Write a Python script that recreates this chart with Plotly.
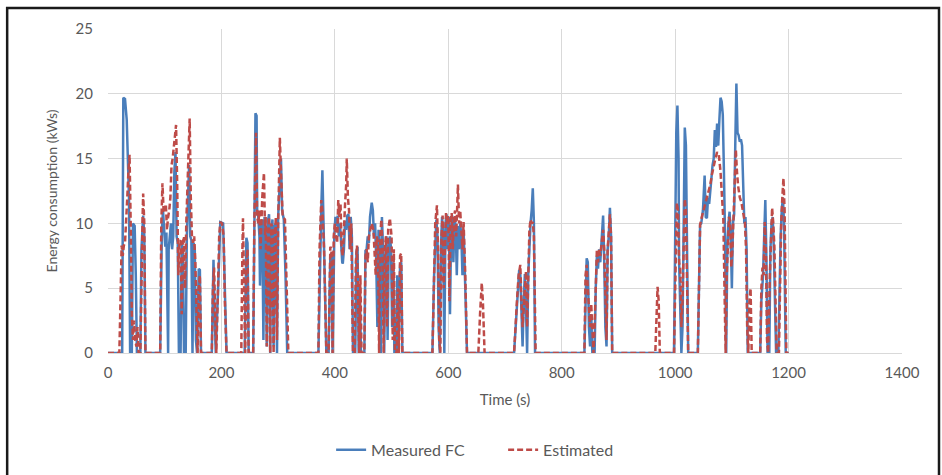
import plotly.graph_objects as go

# ---- Measured FC (time s, energy kWs) ----
meas_t = [0, 25, 27, 30, 33, 35, 37, 39, 42, 44, 47, 49, 51, 57, 59, 62, 64, 66,
          92, 95, 97, 99, 101, 103, 105, 106, 107, 109, 111, 113, 115, 117, 119, 121, 123, 125,
          128, 130, 132, 134, 137, 139, 141, 143, 145, 147, 149, 151, 153, 155, 157, 160, 162, 164,
          183, 186, 188, 190, 195, 198, 203, 206, 209,
          241, 244, 246, 248,
          256, 258, 260, 262, 263, 265, 267, 268, 270, 272, 274, 276, 278, 280, 282, 284, 286, 288,
          290, 292, 294, 296, 298, 300, 302, 305, 307, 310, 313, 316,
          371, 374, 376, 378, 380, 382, 385,
          389, 392, 394, 396, 399, 401, 403, 405, 407, 409, 411, 413, 414, 416, 418, 420, 422, 424,
          426, 428, 430, 432, 436, 438, 440, 442, 444, 446, 452, 454, 456, 458, 460, 462, 465, 467,
          469, 471, 473, 475, 477, 479, 481, 483, 485, 487, 489, 491, 493, 495, 497, 499, 501, 503,
          505, 508, 510, 512, 515, 517, 519,
          572, 575, 577, 579, 581, 583, 585, 587, 589, 591, 593, 595, 597, 599, 601, 603, 605, 607,
          609, 611, 613, 615, 617, 619, 621, 623, 625, 627, 630, 633,
          716, 719, 722, 725, 727, 729, 731, 733, 735, 737, 739, 741, 743, 745, 747, 749, 751, 753,
          840, 842, 844, 846, 848, 850, 852, 854, 858, 860, 862, 864, 866, 868, 871, 873, 875, 877,
          879, 881, 883, 885, 887, 889,
          998, 1000, 1002, 1004, 1006, 1007, 1009, 1011, 1013, 1015, 1017, 1019, 1021, 1023,
          1040, 1042, 1044, 1046, 1049, 1052, 1054, 1056, 1058, 1060, 1062, 1064, 1066, 1068, 1070,
          1072, 1074, 1076, 1078, 1080, 1082, 1084, 1086, 1088, 1090, 1092, 1094, 1096, 1098, 1100,
          1102, 1104, 1106, 1108, 1110, 1112, 1114, 1116, 1118, 1120, 1122, 1124, 1126, 1128,
          1150, 1152, 1155, 1157, 1159, 1161, 1163, 1166, 1168, 1170, 1172, 1174, 1176, 1178,
          1182, 1184, 1186, 1188, 1190, 1192, 1195, 1200]
meas_v = [0, 0, 19.7, 19.6, 18, 15.5, 12, 0, 0, 10, 9.8, 6, 0, 0, 8, 10.6, 9, 0,
          0, 9.5, 11, 9.5, 8.2, 9.3, 1, 0, 8, 9.5, 10, 8, 9, 14, 15.5, 9, 8.5, 0,
          0, 8.5, 8, 0, 0, 9, 12, 14.5, 9, 8.7, 0, 8.5, 8, 1, 0, 6.5, 6.4, 0,
          0, 7.2, 3, 0, 6, 10.1, 10, 5, 0,
          0, 8.9, 8.5, 0,
          0, 12, 18.5, 18.3, 11, 10.5, 9, 5.2, 10, 10.3, 1, 10.5, 9, 0.5, 10.2, 10.7, 0, 9.5,
          10.3, 0.5, 9.8, 10, 0, 10.5, 12.5, 15.0, 11, 10.3, 6, 0,
          0, 8, 11, 14.1, 9, 6, 0,
          0, 7.5, 7.7, 0, 9, 10.5, 9.8, 10.6, 9, 10, 8, 7, 6.9, 8, 10.2, 9.5, 10.6, 10.7,
          8, 10.5, 9, 0, 0, 7.8, 8.2, 0, 5, 0, 0, 7.9, 8, 9, 8.5, 10.5, 11.6, 11,
          9, 10, 7, 2, 9.5, 8, 0, 10.5, 8, 0, 7, 9, 1, 8, 9, 8.1, 2, 7,
          0, 0, 6, 0, 6.8, 7, 0,
          0, 6, 9, 10.3, 9, 2, 0, 8, 10.5, 9, 0, 10, 10.7, 8, 10.5, 3, 9.5, 10.6,
          7, 10.5, 9.8, 6, 9.8, 8, 10, 9, 6, 9.5, 5, 0,
          0, 2, 4.5, 6.4, 6, 3.5, 0.5, 4, 6.1, 3.5, 0, 6, 9, 10, 11, 12.7, 10, 0,
          0, 5, 7.3, 7, 2, 0.5, 3, 0, 0, 5, 7.5, 6.5, 8, 7, 9, 10.6, 7, 2,
          0.5, 8, 9, 11.2, 9, 0,
          0, 8, 17, 19.1, 15, 7, 3, 0, 2, 10, 17.4, 16, 7, 0,
          0, 6, 9.9, 10, 11, 13.7, 10.5, 10.4, 12, 11.5, 13, 13.5, 14.5, 15, 17.2,
          15.9, 17.7, 16, 18, 19.7, 19.4, 18.4, 14, 9, 0, 8, 10, 10.9, 9, 5,
          10, 10.7, 16, 20.8, 17, 16.8, 16.3, 16.5, 16.0, 13, 10, 10.5, 8, 0,
          0, 4, 6, 9, 11.8, 7, 0, 0, 8, 10, 10.5, 8, 3, 0,
          0, 6, 9, 11, 12, 10, 0, 0]

# ---- Estimated (time s, energy kWs) ----
est_t = [0, 20, 22, 24, 26, 28, 30, 32, 34, 36, 38, 40, 42, 44, 46, 48, 50, 52, 54,
         57, 59, 61, 62, 64, 66,
         92, 94, 96, 98, 100, 102, 104, 106, 108, 110, 112, 114, 116, 118, 120, 122, 124, 126,
         128, 130, 132, 134, 136, 138, 140, 142, 144, 146, 148, 150, 152, 154, 156, 158, 160, 162, 164,
         183, 185, 187, 189, 191, 194, 196, 198, 201, 204, 206, 209,
         235, 237, 238, 240, 242, 244, 246, 248,
         256, 258, 261, 263, 265, 267, 269, 272, 275, 277, 278, 280, 282, 284, 286, 288, 290, 292,
         294, 296, 298, 300, 303, 305, 308, 312, 315, 318,
         371, 373, 376, 378, 381, 385,
         389, 392, 394, 396, 398, 400, 402, 404, 406, 408, 410, 412, 414, 416, 418, 420, 421, 423,
         425, 427, 429, 431, 432, 435, 437, 439, 441, 443, 445, 447, 452, 454, 456, 458, 460, 462,
         465, 468, 470, 472, 474, 476, 478, 480, 482, 484, 486, 488, 490, 492, 494, 497, 500, 502,
         504, 506, 509, 511, 513, 515, 517, 519,
         572, 575, 577, 580, 582, 584, 586, 588, 590, 592, 594, 596, 598, 600, 602, 604, 606, 608,
         610, 612, 614, 617, 619, 621, 623, 625, 627, 630, 633,
         653, 656, 659, 661, 663, 664,
         716, 718, 721, 724, 727, 729, 731, 733, 735, 737, 739, 741, 743, 745, 747, 749, 751, 754,
         840, 842, 844, 846, 848, 850, 852, 854, 856, 858, 860, 862, 864, 866, 868, 870, 873, 875,
         877, 879, 881, 883, 885, 887, 889,
         965, 967, 969, 971, 973,
         998, 1000, 1003, 1005, 1007, 1009, 1011, 1013, 1015, 1017, 1019, 1021, 1023,
         1040, 1042, 1044, 1047, 1050, 1053, 1056, 1059, 1062, 1065, 1068, 1071, 1074, 1077, 1080,
         1083, 1085, 1087, 1089, 1091, 1093, 1095, 1097, 1099, 1101, 1103, 1105, 1107, 1109, 1111,
         1114, 1117, 1120, 1123, 1125, 1127, 1129, 1131, 1133, 1135,
         1150, 1152, 1154, 1156, 1158, 1160, 1162, 1164, 1167, 1169, 1171, 1173, 1175, 1177, 1179,
         1183, 1185, 1187, 1189, 1191, 1193, 1196, 1200]
est_v = [0, 0, 4, 8.3, 7.5, 8.3, 8.5, 10, 12, 14, 15.3, 10, 3, 1, 2.5, 1, 0.5, 2, 0,
         0, 7, 10.5, 12.3, 10, 0,
         0, 10, 13.1, 11, 10.8, 11.5, 9.5, 10.5, 11, 12, 14.5, 15, 16, 16.5, 17.6, 13, 6, 8.6,
         8.7, 3, 8.5, 9, 5, 10, 13, 16, 18.1, 12, 9, 8.5, 9, 7, 2, 0, 5, 6, 0,
         0, 5, 6.6, 3, 0, 5, 9, 10.1, 10, 9, 4, 0,
         0, 8, 10.4, 5, 0, 7, 8, 0,
         0, 10, 17.0, 10.5, 10, 11, 8, 12, 13.9, 9, 10.5, 0.5, 9, 10.5, 0, 10, 9.5, 0,
         9, 10.5, 1, 10, 16.6, 14, 10.5, 10.3, 4, 0,
         0, 8, 11.8, 11, 8, 0,
         0, 8.2, 8, 0, 9, 10, 9, 8.5, 11.8, 10.5, 11.5, 8, 7.5, 10, 11.5, 13, 15.0, 12,
         11, 8, 10, 3, 0, 0, 7, 8.3, 5, 0, 6, 0, 0, 7.5, 8, 7, 9, 9.5,
         10, 9.5, 8, 6, 9, 8.5, 0, 9, 10.3, 8, 0, 8, 9, 2, 9.5, 10.4, 9, 1,
         8, 0, 0, 5, 0, 7.5, 7.7, 0,
         0, 7, 10, 11.4, 8, 1, 0, 9, 10.6, 5, 9, 10.8, 10, 10.6, 4, 10, 10.8, 8,
         10.5, 11, 9, 13.0, 10, 11, 9.5, 8, 10.1, 6, 0,
         0, 3, 5.4, 4, 1, 0,
         0, 2, 4, 6, 6.8, 4, 2, 3.5, 5.5, 6.3, 2, 7, 9.5, 10.3, 10, 10.1, 9, 0,
         0, 6, 6.8, 5, 3.5, 2, 3.8, 1, 0, 2, 6, 8, 7, 8, 7.5, 8.5, 9.5, 8,
         3, 1, 8, 10, 10.7, 9, 0,
         0, 3, 5.1, 4, 0,
         0, 6, 11.6, 11, 7, 6.5, 2, 4, 8, 11.9, 11, 5, 0,
         0, 7, 9.9, 10.5, 11, 11.5, 12, 12.5, 13, 13.8, 14.5, 15, 15.5, 15.3, 14,
         12, 10.3, 5, 0, 6, 9, 10.5, 10.2, 6.6, 8, 10.5, 13.7, 15.7, 14, 12.9,
         12, 11.6, 10.8, 10.1, 8, 2, 0, 4, 5, 0,
         0, 5, 6.6, 6, 10.1, 8, 1, 0, 6, 9, 11.2, 10, 8.2, 4, 0,
         0, 7, 10, 12, 13.5, 11, 0, 0]

x_ticks = [0, 200, 400, 600, 800, 1000, 1200, 1400]
y_ticks = [0, 5, 10, 15, 20, 25]

FONT = "Lato, 'Open Sans', sans-serif"
TXT = "#595959"
GRID = "#d9d9d9"

fig = go.Figure()
fig.add_trace(go.Scatter(x=meas_t, y=meas_v, mode="lines", name="Measured FC",
                         line=dict(color="#4a7ebb", width=2.5)))
fig.add_trace(go.Scatter(x=est_t, y=est_v, mode="lines", name="Estimated",
                         line=dict(color="#be4b48", width=2.5, dash="6px,3px")))

fig.update_layout(
    width=942, height=475,
    margin=dict(l=108, r=40, t=29, b=122, autoexpand=False),
    paper_bgcolor="white", plot_bgcolor="white",
    font=dict(family=FONT, size=15, color=TXT),
    showlegend=True,
    legend=dict(orientation="h", x=0.281, xanchor="left", y=-0.299, yanchor="middle",
                font=dict(size=16, color=TXT), entrywidth=127, entrywidthmode="pixels",
                traceorder="normal"),
    xaxis=dict(range=[0, 1400], tickvals=x_ticks, showgrid=True, gridcolor=GRID, gridwidth=1,
               zeroline=False, showline=True, linecolor=GRID, linewidth=1, ticks="",
               ticklabelstandoff=6, mirror=False, automargin=False,
               title=dict(text="Time (s)", standoff=14, font=dict(size=15, color=TXT))),
    yaxis=dict(range=[0, 25], tickvals=y_ticks, showgrid=True, gridcolor=GRID, gridwidth=1,
               zeroline=False, showline=False, ticks="", ticklabelstandoff=14, automargin=False,
               title=dict(text="Energy consumption (kWs)", standoff=14, font=dict(size=14, color=TXT))),
    shapes=[dict(type="rect", xref="paper", yref="paper",
                 x0=-0.127, x1=1.0466, y0=-0.45, y1=1.065,
                 line=dict(color="#1a1a1a", width=2.5), fillcolor="rgba(0,0,0,0)", layer="above")],
)

fig.write_html("out.html")
